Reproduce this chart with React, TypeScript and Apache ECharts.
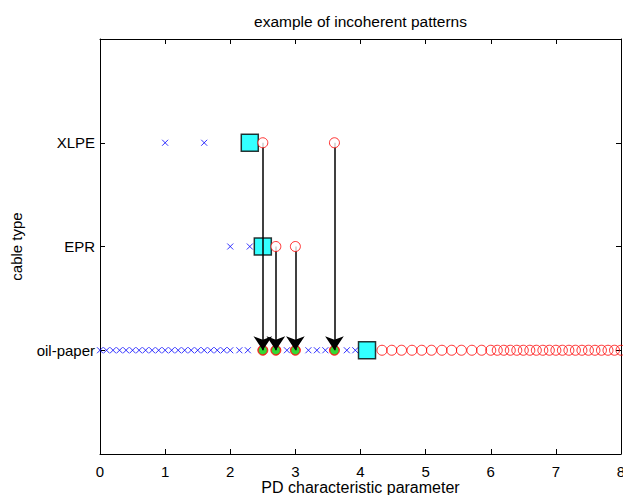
import React, { useEffect, useRef } from "react";
import * as echarts from "echarts";

const TITLE = "example of incoherent patterns";
const X_NAME = "PD characteristic parameter";
const Y_NAME = "cable type";
const CATEGORIES = ["oil-paper", "EPR", "XLPE"]; // y = 1, 2, 3

// oil-paper (y = 1)
const OIL_CROSS_X = [0, 0.1, 0.2, 0.3, 0.4, 0.5, 0.6, 0.7, 0.8, 0.9, 1.0, 1.1, 1.2, 1.3, 1.4, 1.5, 1.6, 1.7, 1.8, 1.9, 2.0, 2.14, 2.27, 2.87, 3.2, 3.33, 3.46, 3.79, 3.92];
const OIL_CIRCLE_X = [2.5, 2.7, 3.0, 3.6, 4.33, 4.48, 4.63, 4.79, 4.94, 5.09, 5.25, 5.4, 5.55, 5.71, 5.86, 6.0, 6.1, 6.2, 6.3, 6.4, 6.5, 6.6, 6.7, 6.8, 6.9, 7.0, 7.1, 7.2, 7.3, 7.4, 7.5, 7.6, 7.7, 7.8, 7.9, 8.0];
const OIL_MATCH_X = [2.5, 2.7, 3.0, 3.6];
const OIL_SQUARE_X = [4.1];

// EPR (y = 2)
const EPR_CROSS_X = [2.0, 2.3];
const EPR_CIRCLE_X = [2.7, 3.0];
const EPR_SQUARE_X = [2.5];

// XLPE (y = 3)
const XLPE_CROSS_X = [1.0, 1.6];
const XLPE_CIRCLE_X = [2.5, 3.6];
const XLPE_SQUARE_X = [2.3];

// arrows: [x, from category level] -> oil-paper level
const ARROWS: [number, number][] = [[2.5, 3], [2.7, 2], [3.0, 2], [3.6, 3]];
const ARROW_TARGET = 1;

const FONT = "Liberation Sans";
const CROSS = "path://M0,0L10,10M10,0L0,10";

export default function App() {
  const ref = useRef<HTMLDivElement>(null);
  useEffect(() => {
    if (!ref.current) return;
    const chart = echarts.init(ref.current, null, { renderer: "svg", width: 623, height: 495 });
    const pts = (xs: number[], y: number) => xs.map((x) => [x, y]);
    const axisCommon = {
      min: 0,
      axisLine: { show: true, onZero: false, lineStyle: { color: "#000", width: 1 } },
      axisTick: { show: true, inside: true, length: 5, lineStyle: { color: "#000" } },
      splitLine: { show: false },
    };
    chart.setOption({
      animation: false,
      backgroundColor: "#fff",
      textStyle: { fontFamily: FONT },
      grid: { left: 100, right: 2, top: 39, bottom: 41, containLabel: false, outerBoundsMode: "none" },
      graphic: [
        {
          type: "text",
          x: 360.5,
          y: 21,
          style: { text: TITLE, fill: "#000", font: `15.5px '${FONT}'`, textAlign: "center", textVerticalAlign: "middle" },
        },
      ],
      xAxis: [
        {
          type: "value",
          ...axisCommon,
          max: 8,
          interval: 1,
          position: "bottom",
          name: X_NAME,
          nameLocation: "middle",
          nameGap: 25,
          nameMoveOverlap: false,
          nameTextStyle: { color: "#000", fontSize: 16, fontFamily: FONT },
          axisLabel: { color: "#000", fontSize: 15, fontFamily: FONT, margin: 10 },
        },
        {
          type: "value",
          ...axisCommon,
          max: 8,
          interval: 1,
          position: "top",
          axisLabel: { show: false },
        },
      ],
      yAxis: [
        {
          type: "value",
          ...axisCommon,
          max: 4,
          interval: 1,
          position: "left",
          name: Y_NAME,
          nameLocation: "middle",
          nameGap: 76,
          nameRotate: 90,
          nameMoveOverlap: false,
          nameTextStyle: { color: "#000", fontSize: 15, fontFamily: FONT },
          axisLabel: {
            color: "#000",
            fontSize: 15,
            fontFamily: FONT,
            margin: 5,
            formatter: (v: number) => CATEGORIES[v - 1] ?? "",
          },
        },
        {
          type: "value",
          ...axisCommon,
          max: 4,
          interval: 1,
          position: "right",
          axisLabel: { show: false },
        },
      ],
      series: [
        {
          type: "scatter",
          z: 1,
          symbol: CROSS,
          symbolSize: 6,
          itemStyle: { color: "none", borderColor: "#0000ff", borderWidth: 1 },
          data: [...pts(OIL_CROSS_X, 1), ...pts(EPR_CROSS_X, 2), ...pts(XLPE_CROSS_X, 3)],
        },
        {
          type: "scatter",
          z: 2,
          symbol: "circle",
          symbolSize: 10,
          itemStyle: { color: "none", borderColor: "#ff0000", borderWidth: 1 },
          data: pts(OIL_CIRCLE_X, 1),
        },
        {
          type: "scatter",
          z: 2,
          symbol: "circle",
          symbolSize: 9,
          itemStyle: { color: "#00d000", borderColor: "#ff0000", borderWidth: 1 },
          data: pts(OIL_MATCH_X, 1),
        },
        {
          type: "scatter",
          z: 2,
          symbol: "rect",
          symbolSize: 17,
          itemStyle: { color: "#00ffff", borderColor: "#000", borderWidth: 1.5 },
          data: [...pts(OIL_SQUARE_X, 1), ...pts(EPR_SQUARE_X, 2), ...pts(XLPE_SQUARE_X, 3)],
        },
        {
          type: "lines",
          coordinateSystem: "cartesian2d",
          z: 3,
          symbol: ["none", "arrow"],
          symbolSize: [11, 14],
          lineStyle: { color: "#000", width: 1.5, opacity: 1 },
          itemStyle: { color: "#000" },
          data: ARROWS.map(([x, y]) => ({ coords: [[x, y], [x, ARROW_TARGET]] })),
        },
        {
          type: "scatter",
          z: 4,
          symbol: "circle",
          symbolSize: 10,
          itemStyle: { color: "#fff", borderColor: "#ff0000", borderWidth: 1 },
          data: [...pts(EPR_CIRCLE_X, 2), ...pts(XLPE_CIRCLE_X, 3)],
        },
      ],
    });
    return () => chart.dispose();
  }, []);
  return (
    <div
      ref={ref}
      style={{ position: "fixed", left: 0, top: 0, width: 623, height: 495, background: "#fff" }}
    />
  );
}
